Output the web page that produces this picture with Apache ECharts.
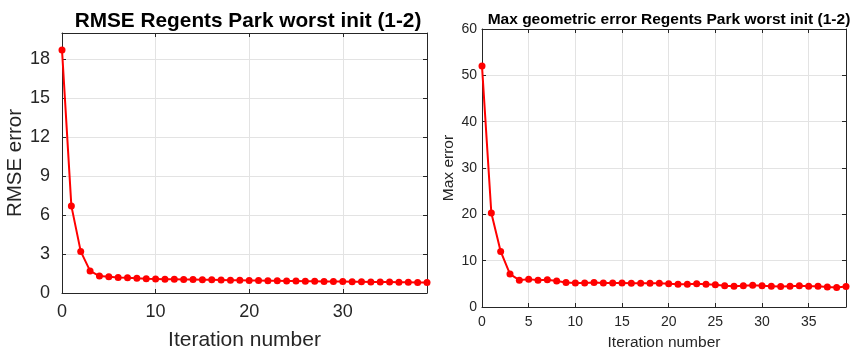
<!DOCTYPE html>
<html>
<head>
    <meta charset="utf-8">
    <title>Regents Park worst init</title>
    <script src="https://cdn.jsdelivr.net/npm/echarts@6/dist/echarts.min.js"></script>
</head>
<body style="margin:0;background:#fff;">
    <div id="main" style="width:850px;height:356px;"></div>
    <script type="text/javascript">
        // iteration index 0..39
        var iterations = [];
        for (var i = 0; i < 40; i++) { iterations.push(i); }

        // RMSE per iteration
        var rmseValues = [18.7, 6.7, 3.2, 1.7, 1.3, 1.25, 1.2, 1.17, 1.13, 1.1,
                          1.08, 1.06, 1.05, 1.04, 1.03, 1.02, 1.01, 1.0, 0.99, 0.98,
                          0.97, 0.96, 0.95, 0.94, 0.93, 0.92, 0.91, 0.9, 0.89, 0.88,
                          0.88, 0.87, 0.86, 0.85, 0.85, 0.84, 0.83, 0.82, 0.81, 0.8];

        // max geometric error per iteration (right plot)
        var maxErrValues = [52.0, 20.3, 12.0, 7.1, 5.8, 6.0, 5.8, 5.9, 5.6, 5.3,
                            5.2, 5.2, 5.3, 5.2, 5.2, 5.2, 5.1, 5.1, 5.1, 5.1,
                            5.0, 4.9, 4.9, 5.0, 4.9, 4.8, 4.6, 4.5, 4.6, 4.7,
                            4.6, 4.5, 4.4, 4.5, 4.6, 4.5, 4.5, 4.3, 4.2, 4.4];

        var titles = ['RMSE Regents Park worst init (1-2)', 'Max geometric error Regents Park worst init (1-2)'];
        var yNames = ['RMSE error', 'Max error'];
        var xName = 'Iteration number';

        var txt = '#262626';
        var fontFam = 'Liberation Sans, Arial, sans-serif';

        function pairs(vals) {
            return vals.map(function (v, k) { return [iterations[k], v]; });
        }

        // inner ticks + full box like a matlab axes
        function boxAxis(grid, pos, opt) {
            var ax = {
                type: 'value',
                gridIndex: grid,
                position: pos,
                min: opt.min, max: opt.max, interval: opt.interval,
                axisLine: { show: true, onZero: false, lineStyle: { color: txt, width: 1 } },
                axisTick: { show: true, inside: true, length: 4, lineStyle: { color: txt } },
                splitLine: { show: false },
                axisLabel: { show: false }
            };
            if (opt.main) {
                ax.splitLine = { show: true, lineStyle: { color: '#e3e3e3', width: 1 } };
                ax.axisLabel = {
                    show: true, color: txt, fontSize: opt.fs, fontFamily: fontFam,
                    margin: opt.margin, showMaxLabel: !!opt.maxLabel
                };
                ax.name = opt.name;
                ax.nameLocation = 'middle';
                ax.nameGap = opt.nameGap;
                ax.nameTextStyle = { color: txt, fontSize: opt.nameFs, fontFamily: fontFam };
            }
            return ax;
        }

        var myChart = echarts.init(document.getElementById('main'));

        var option = {
            backgroundColor: '#fff',
            animation: false,
            title: [
                { text: titles[0], left: 243, top: 6, textAlign: 'center',
                  textStyle: { color: '#000', fontSize: 20.8, fontWeight: 'bold', fontFamily: fontFam } },
                { text: titles[1], left: 664, top: 7, textAlign: 'center',
                  textStyle: { color: '#000', fontSize: 15.5, fontWeight: 'bold', fontFamily: fontFam } }
            ],
            grid: [
                { left: 62, top: 33, width: 365, height: 261 },
                { left: 482, top: 29, width: 364, height: 278 }
            ],
            xAxis: [
                boxAxis(0, 'bottom', { main: true, min: 0, max: 39, interval: 10, fs: 18, margin: 10,
                    name: xName, nameGap: 37, nameFs: 21 }),
                boxAxis(0, 'top', { min: 0, max: 39, interval: 10 }),
                boxAxis(1, 'bottom', { main: true, min: 0, max: 39, interval: 5, fs: 14, margin: 8,
                    name: xName, nameGap: 28, nameFs: 15.5 }),
                boxAxis(1, 'top', { min: 0, max: 39, interval: 5 })
            ],
            yAxis: [
                boxAxis(0, 'left', { main: true, min: 0, max: 20, interval: 3, fs: 18, margin: 12,
                    name: yNames[0], nameGap: 29, nameFs: 20.5 }),
                boxAxis(0, 'right', { min: 0, max: 20, interval: 3 }),
                boxAxis(1, 'left', { main: true, min: 0, max: 60, interval: 10, fs: 14, margin: 5,
                    name: yNames[1], nameGap: 25, nameFs: 15.5, maxLabel: true }),
                boxAxis(1, 'right', { min: 0, max: 60, interval: 10 })
            ],
            series: [
                {
                    type: 'line', xAxisIndex: 0, yAxisIndex: 0,
                    data: pairs(rmseValues),
                    symbol: 'circle', symbolSize: 7,
                    lineStyle: { color: '#ff0000', width: 2 },
                    itemStyle: { color: '#ff0000' }
                },
                {
                    type: 'line', xAxisIndex: 2, yAxisIndex: 2,
                    data: pairs(maxErrValues),
                    symbol: 'circle', symbolSize: 7,
                    lineStyle: { color: '#ff0000', width: 2 },
                    itemStyle: { color: '#ff0000' }
                }
            ]
        };

        myChart.setOption(option);
    </script>
</body>
</html>
